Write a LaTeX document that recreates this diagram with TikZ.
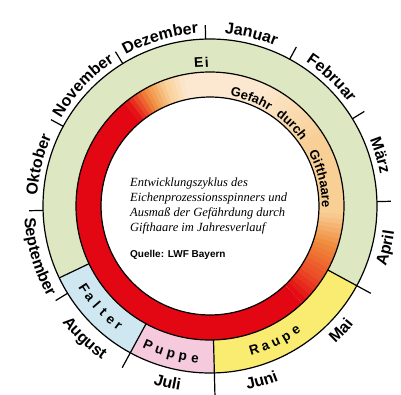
\documentclass[tikz,border=0pt]{standalone}
\usepackage{fontspec}
\newfontfamily\lsans{Liberation Sans}
\newfontfamily\lserif{Liberation Serif}
\usetikzlibrary{decorations.text}
\definecolor{cRed}{HTML}{E30613}
\definecolor{cOrRed}{HTML}{EA4A25}
\definecolor{cOrange}{HTML}{F08A3C}
\definecolor{cLight}{HTML}{F8CF95}
\definecolor{cPeach}{HTML}{FCE8D0}
\definecolor{cGreen}{HTML}{DDE8C2}
\definecolor{cBlue}{HTML}{CFE7F0}
\definecolor{cPink}{HTML}{F4CADC}
\definecolor{cYellow}{HTML}{F9EC70}
\newcommand\monthfont{\lsans\bfseries\fontsize{16}{19}\selectfont}
\newcommand\bandfont{\lsans\bfseries\fontsize{13.5}{16}\selectfont}
\newcommand\gefahrfont{\lsans\bfseries\fontsize{13}{15}\selectfont}
\newcommand\annsec[5]{\fill[#1] (#2:#4) arc[start angle=#2, end angle=#3, radius=#4] -- (#3:#5) arc[start angle=#3, end angle=#2, radius=#5] -- cycle;}
\newcommand\gradsec[5]{%
  \foreach \k in {1,...,#5}{%
    \pgfmathsetmacro\grA{#1+(#2-#1)*(\k-1)/#5}%
    \pgfmathsetmacro\grB{#1+(#2-#1)*\k/#5+0.6}%
    \pgfmathtruncatemacro\grP{100*(\k-0.5)/#5}%
    \annsec{#4!\grP!#3}{\grA}{\grB}{109}{134}%
  }}
\newcommand\toplabel[3][173]{\path[decorate,decoration={text along path, text align=center, text={|\monthfont|#3}}] (#2+28:#1) arc[start angle=#2+28, end angle=#2-28, radius=#1];}
\newcommand\botlabel[3][186]{\path[decorate,decoration={text along path, text align=center, text={|\monthfont|#3}}] (#2-28:#1) arc[start angle=#2-28, end angle=#2+28, radius=#1];}
\newcommand\gefword[2]{\path[decorate,decoration={text along path, text align=center, text={|\gefahrfont|#2}}] (#1+24:112) arc[start angle=#1+24, end angle=#1-24, radius=112];}
\begin{document}
\begin{tikzpicture}[x=1pt,y=1pt,
  ring/.style={line width=1.2pt},
  bandlet/.style={font=\bandfont, anchor=mid, inner sep=0pt},
  ctext/.style={font=\lserif\itshape\fontsize{12.5}{15}\selectfont, inner sep=0pt, anchor=base west}]
\useasboundingbox (-210,-188) rectangle (191,206);
\begin{scope}[rotate=1.5]
  % outer band segments
  \annsec{cGreen}{-30}{204}{134}{167}
  \annsec{cYellow}{-90}{-30}{134}{167}
  \annsec{cPink}{-120}{-90}{134}{167}
  \annsec{cBlue}{-156}{-120}{134}{167}
  % danger band
  \annsec{cRed}{128}{312}{109}{134}
  \gradsec{-48}{-36}{cRed}{cOrRed}{5}
  \gradsec{-36}{-20}{cOrRed}{cOrange}{7}
  \gradsec{-20}{-5}{cOrange}{cLight}{7}
  \gradsec{-5}{30}{cLight}{cLight}{2}
  \gradsec{30}{65}{cLight}{cPeach}{12}
  \gradsec{65}{100}{cPeach}{cPeach}{2}
  \gradsec{100}{109}{cPeach}{cLight}{4}
  \gradsec{109}{118}{cLight}{cOrange}{5}
  \gradsec{118}{128}{cOrange}{cRed}{5}
  % circles
  \draw[ring] (0,0) circle[radius=167];
  \draw[ring] (0,0) circle[radius=134];
  \draw[ring] (0,0) circle[radius=109];
  % dividers
  \draw[ring] (-30:134) -- (-30:183);
  \draw[ring] (-90:134) -- (-90:190);
  \draw[ring] (-120:134) -- (-120:184);
  \draw[ring] (-156:134) -- (-156:167);
  % month ticks
  \foreach \a in {90,60,30,0,180,150,120,-150}
    \draw[ring] (\a:167) -- (\a:181);
  % month labels
  \toplabel{165}{Oktober}
  \toplabel{135}{November}
  \toplabel{105}{Dezember}
  \toplabel{75}{Januar}
  \toplabel{45}{Februar}
  \toplabel{15}{März}
  \botlabel{-15}{April}
  \botlabel{-45}{Mai}
  \botlabel[187.5]{-75}{Juni}
  \botlabel[187]{-105}{Juli}
  \botlabel[188]{-135}{August}
  \botlabel{-165}{September}
  % danger text
  \gefword{67.45}{Gefahr}
  \gefword{43.25}{durch}
  \gefword{12.25}{Gifthaare}
  % stage labels
  \foreach \c [count=\i from 0] in {F,a,l,t,e,r}
    \node[bandlet, rotate={-148.2+\i*3.88+91.5}] (fa\i) at ({-148.2+\i*3.88}:153) {\c};
  \foreach \c [count=\i from 0] in {P,u,p,p,e}
    \node[bandlet, rotate={-115.4+\i*4.575+91.5}] (pu\i) at ({-115.4+\i*4.575}:155) {\c};
  \foreach \c [count=\i from 0] in {R,a,u,p,e}
    \node[bandlet, rotate={-74.4+\i*4.375+91.5}] (ra\i) at ({-74.4+\i*4.375}:153) {\c};
\end{scope}
\node[font=\lsans\bfseries\fontsize{14}{16}\selectfont, rotate=3.4, anchor=base, inner sep=0pt] (ei) at (93.4:139) {E\kern1.5pt i};
% centre text
\node[ctext] (t1) at (-80,20) {Entwicklungszyklus des};
\node[ctext] (t2) at (-80,5) {Eichenprozessionsspinners und};
\node[ctext] (t3) at (-80,-10.5) {Ausmaß der Gefährdung durch};
\node[ctext] (t4) at (-80,-25.7) {Gifthaare im Jahresverlauf};
\node[font=\lsans\bfseries\fontsize{10}{12}\selectfont, inner sep=0pt, anchor=base west] (src) at (-80,-51.7) {Quelle: LWF Bayern};
\end{tikzpicture}
\end{document}
